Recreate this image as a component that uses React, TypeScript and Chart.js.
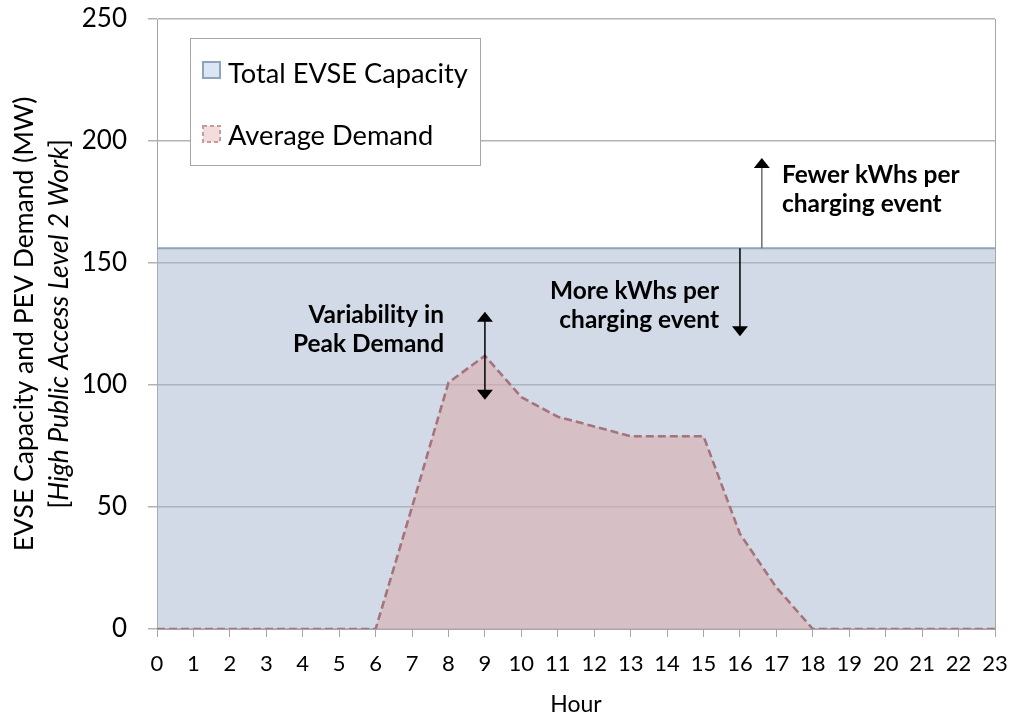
import React, { useEffect, useRef } from "react";
import { Chart, registerables } from "chart.js";

Chart.register(...registerables);

const hours: number[] = Array.from({ length: 24 }, (_, i) => i);
const capacityValues: number[] = [
  156, 156, 156, 156, 156, 156, 156, 156, 156, 156, 156, 156,
  156, 156, 156, 156, 156, 156, 156, 156, 156, 156, 156, 156,
];
const demandValues: number[] = [
  0, 0, 0, 0, 0, 0, 0, 50, 101, 112, 95, 87,
  83, 79, 79, 79, 39, 17, 0, 0, 0, 0, 0, 0,
];
const yTicks: number[] = [0, 50, 100, 150, 200, 250];
const seriesLabels: string[] = ["Total EVSE Capacity", "Average Demand"];
const yTitleLine1 = "EVSE Capacity and PEV Demand (MW)";
const yTitleLine2 = "High Public Access Level 2 Work";
const xTitle = "Hour";

// annotation arrows in data units
const peakArrow = { x: 9, y1: 94, y2: 130 };
const moreArrow = { x: 16, y1: 156, y2: 120 };
const fewerArrow = { x: 16.6, y1: 156, y2: 193 };

const FONT = "Lato, 'Open Sans', sans-serif";

function fitSize(ctx: CanvasRenderingContext2D, text: string, target: number, weight: string, style = "normal") {
  ctx.font = `${style} ${weight} 100px ${FONT}`;
  const w = ctx.measureText(text).width;
  return (100 * target) / w;
}

export default function App() {
  const ref = useRef<HTMLCanvasElement | null>(null);

  useEffect(() => {
    const canvas = ref.current!;
    const capFill = "rgba(164,182,205,0.5)";
    const capLine = "#8ea3bd";
    const demFill = "rgba(221,171,171,0.55)";
    const demLine = "#a5737a";

    const drawArrowHead = (ctx: CanvasRenderingContext2D, x: number, y: number, dir: number) => {
      ctx.beginPath();
      ctx.moveTo(x, y);
      ctx.lineTo(x - 8, y - dir * 10);
      ctx.lineTo(x + 8, y - dir * 10);
      ctx.closePath();
      ctx.fill();
    };

    const overlay = {
      id: "overlay",
      afterDraw(chart: any) {
        const ctx: CanvasRenderingContext2D = chart.ctx;
        const xs = chart.scales.x;
        const ys = chart.scales.y;
        const ca = chart.chartArea;
        ctx.save();

        // right border of plot area
        ctx.strokeStyle = "#a6a6a6";
        ctx.lineWidth = 1;
        ctx.beginPath();
        ctx.moveTo(ca.right + 0.5, ca.top);
        ctx.lineTo(ca.right + 0.5, ca.bottom);
        ctx.stroke();

        // legend box
        const lx = 190, ly = 38, lw = 290, lh = 127;
        ctx.fillStyle = "#ffffff";
        ctx.fillRect(lx, ly, lw, lh);
        ctx.strokeStyle = "#a6a6a6";
        ctx.strokeRect(lx + 0.5, ly + 0.5, lw, lh);
        const legSize = fitSize(ctx, seriesLabels[0], 240, "normal");
        ctx.font = `normal ${legSize}px ${FONT}`;
        ctx.fillStyle = "#000";
        ctx.textBaseline = "alphabetic";
        ctx.textAlign = "left";
        ctx.fillText(seriesLabels[0], 228, 83);
        ctx.fillText(seriesLabels[1], 228, 145);
        // swatches
        ctx.fillStyle = "#dce6f2";
        ctx.fillRect(203, 62, 17, 16);
        ctx.strokeStyle = "#8ea3bd";
        ctx.lineWidth = 2;
        ctx.strokeRect(203, 62, 17, 16);
        ctx.fillStyle = "#f2dcdc";
        ctx.fillRect(203, 126, 17, 16);
        ctx.strokeStyle = "#c99a9a";
        ctx.setLineDash([4, 3]);
        ctx.strokeRect(203, 126, 17, 16);
        ctx.setLineDash([]);

        // arrows
        ctx.lineWidth = 1.5;
        const px = (v: number) => xs.getPixelForValue(v);
        const py = (v: number) => ys.getPixelForValue(v);
        ctx.strokeStyle = "#000";
        ctx.fillStyle = "#000";
        {
          const x = px(peakArrow.x);
          const yTop = py(peakArrow.y2);
          const yBot = py(peakArrow.y1);
          ctx.beginPath();
          ctx.moveTo(x, yTop + 8);
          ctx.lineTo(x, yBot - 8);
          ctx.stroke();
          drawArrowHead(ctx, x, yTop, -1);
          drawArrowHead(ctx, x, yBot, 1);
        }
        {
          const x = px(moreArrow.x);
          const y0 = py(moreArrow.y1);
          const y1 = py(moreArrow.y2);
          ctx.beginPath();
          ctx.moveTo(x, y0);
          ctx.lineTo(x, y1 - 8);
          ctx.stroke();
          drawArrowHead(ctx, x, y1, 1);
        }
        ctx.strokeStyle = "#6e6e6e";
        ctx.fillStyle = "#000";
        {
          const x = px(fewerArrow.x);
          const y0 = py(fewerArrow.y1);
          const y1 = py(fewerArrow.y2);
          ctx.beginPath();
          ctx.moveTo(x, y0);
          ctx.lineTo(x, y1 + 8);
          ctx.stroke();
          drawArrowHead(ctx, x, y1, -1);
        }

        // annotation texts
        const annSize = fitSize(ctx, "More kWhs per", 169, "bold");
        ctx.font = `normal bold ${annSize}px ${FONT}`;
        ctx.fillStyle = "#000";
        ctx.textAlign = "left";
        ctx.fillText("Fewer kWhs per", 782, 183);
        ctx.fillText("charging event", 782, 212);
        ctx.textAlign = "right";
        ctx.fillText("More kWhs per", 719, 299);
        ctx.fillText("charging event", 719, 328);
        ctx.fillText("Variability in", 444, 323);
        ctx.fillText("Peak Demand", 444, 352);

        // y axis title
        const cy = (ca.top + ca.bottom) / 2;
        const t1 = fitSize(ctx, yTitleLine1, 455, "normal");
        ctx.save();
        ctx.translate(0, cy);
        ctx.rotate(-Math.PI / 2);
        ctx.textAlign = "center";
        ctx.font = `normal ${t1}px ${FONT}`;
        ctx.fillText(yTitleLine1, 0, 33);
        const fItal = `italic ${t1}px ${FONT}`;
        const fReg = `normal ${t1}px ${FONT}`;
        ctx.font = fReg;
        const wb1 = ctx.measureText("[").width;
        const wb2 = ctx.measureText("]").width;
        ctx.font = fItal;
        const wm = ctx.measureText(yTitleLine2).width;
        const total = wb1 + wm + wb2;
        let sx = -total / 2;
        ctx.textAlign = "left";
        ctx.font = fReg;
        ctx.fillText("[", sx, 68);
        sx += wb1;
        ctx.font = fItal;
        ctx.fillText(yTitleLine2, sx, 68);
        sx += wm;
        ctx.font = fReg;
        ctx.fillText("]", sx, 68);
        ctx.restore();

        // x axis title
        ctx.textAlign = "center";
        ctx.font = `normal 23px ${FONT}`;
        ctx.fillText(xTitle, (ca.left + ca.right) / 2, 712);

        ctx.restore();
      },
    };

    const chart = new Chart(canvas, {
      type: "line",
      data: {
        labels: hours,
        datasets: [
          {
            label: seriesLabels[1],
            data: hours.map((h, i) => ({ x: h, y: demandValues[i] })),
            backgroundColor: demFill,
            borderColor: demLine,
            borderWidth: 2.6,
            borderDash: [8, 4],
            pointRadius: 0,
            fill: "origin",
            tension: 0,
          },
          {
            label: seriesLabels[0],
            data: hours.map((h, i) => ({ x: h, y: capacityValues[i] })),
            backgroundColor: capFill,
            borderColor: capLine,
            borderWidth: 2,
            pointRadius: 0,
            fill: "origin",
            tension: 0,
          },
        ],
      },
      options: {
        responsive: false,
        animation: false,
        layout: { padding: { top: 19, right: 18, left: 0, bottom: 0 } },
        plugins: { legend: { display: false }, tooltip: { enabled: false } },
        scales: {
          x: {
            type: "linear",
            min: 0,
            max: 23,
            afterFit: (s: any) => {
              s.height = 88;
              s.paddingLeft = 0;
              s.paddingRight = 0;
              s.paddingTop = 0;
              s.paddingBottom = 0;
            },
            afterBuildTicks: (s: any) => {
              s.ticks = hours.map((h) => ({ value: h }));
            },
            ticks: {
              stepSize: 1,
              autoSkip: false,
              maxRotation: 0,
              color: "#000",
              padding: 14,
              font: { family: FONT, size: 22 },
            },
            grid: { drawOnChartArea: false, tickLength: 8, color: "#a6a6a6" },
            border: { display: true, color: "#a6a6a6" },
          },
          y: {
            min: 0,
            max: 250,
            afterFit: (s: any) => {
              s.width = 157;
              s.paddingLeft = 0;
              s.paddingRight = 0;
              s.paddingTop = 0;
              s.paddingBottom = 0;
            },
            afterBuildTicks: (s: any) => {
              s.ticks = yTicks.map((v) => ({ value: v }));
            },
            ticks: {
              color: "#000",
              padding: 21,
              font: { family: FONT, size: 26 },
            },
            grid: { color: "#b3b3b3", tickLength: 9, lineWidth: 1.5 },
            border: { display: true, color: "#a6a6a6" },
          },
        },
      },
      plugins: [overlay],
    });

    return () => chart.destroy();
  }, []);

  return (
    <div style={{ position: "absolute", left: 0, top: 0, width: 1013, height: 717, background: "#fff" }}>
      <canvas ref={ref} width={1013} height={717} />
    </div>
  );
}
